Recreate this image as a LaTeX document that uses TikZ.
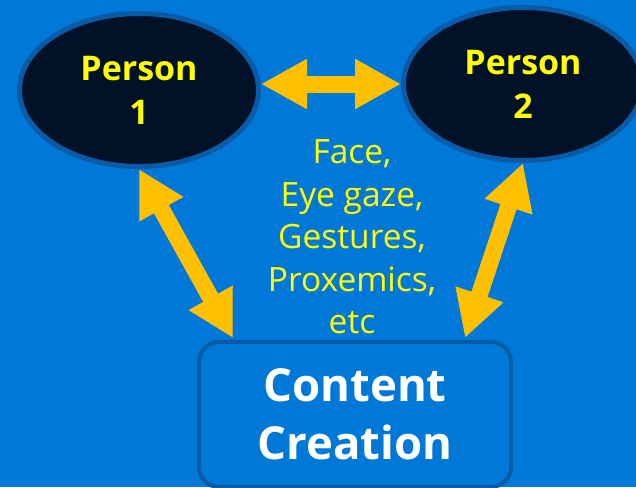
\documentclass[tikz,border=0pt]{standalone}
\usepackage{fontspec}
\setmainfont{Open Sans}
\usetikzlibrary{shapes.geometric,arrows.meta,calc}
\definecolor{bgblue}{HTML}{0078D7}
\definecolor{edgeblue}{HTML}{0A5AA6}
\definecolor{darknavy}{HTML}{001128}
\definecolor{arrowgold}{HTML}{FFC000}
\definecolor{cueyellow}{HTML}{FFFF00}

\begin{document}
\begin{tikzpicture}[x=1pt,y=-1pt]

    \tikzset{personstyle/.style={draw=edgeblue,line width=5pt,fill=darknavy,shape=ellipse,
        minimum width=239pt,minimum height=153pt,inner sep=0pt,text=cueyellow,align=center,
        font=\bfseries\fontsize{34}{44}\selectfont}}
    \tikzset{boxstyle/.style={draw=edgeblue,line width=4pt,rounded corners=20pt,
        minimum width=312pt,minimum height=145pt,inner sep=0pt,text=white,align=center,
        font=\bfseries\fontsize{45.5}{58}\selectfont}}

    \useasboundingbox (0,0) rectangle (636,487);
    \fill[bgblue] (0,0) rectangle (636,487);

    \node[personstyle] (p1) at (139,90) {Person\\1};
    \node[personstyle] (p2) at (523,84) {Person\\2};
    \node[boxstyle] (cc) at (355,414.5) {Content\\Creation};
    \node[text=cueyellow,align=center,font=\fontsize{33.5}{42.5}\selectfont] (cues) at (352,237)
        {Face,\\Eye gaze,\\Gestures,\\Proxemics,\\etc};

    \begin{scope}[every path/.style={draw=arrowgold,line width=17pt,
        {Triangle[width=47pt,length=46pt]}-{Triangle[width=47pt,length=46pt]}}]
        \draw (p2.west -| p1.east) -- (p2.west);
        \draw (p1.south) -- ($(cc.north west)+(36,-2)$);
        \draw (p2.south) -- ($(cc.north east)+(-48,-2)$);
    \end{scope}

\end{tikzpicture}
\end{document}
